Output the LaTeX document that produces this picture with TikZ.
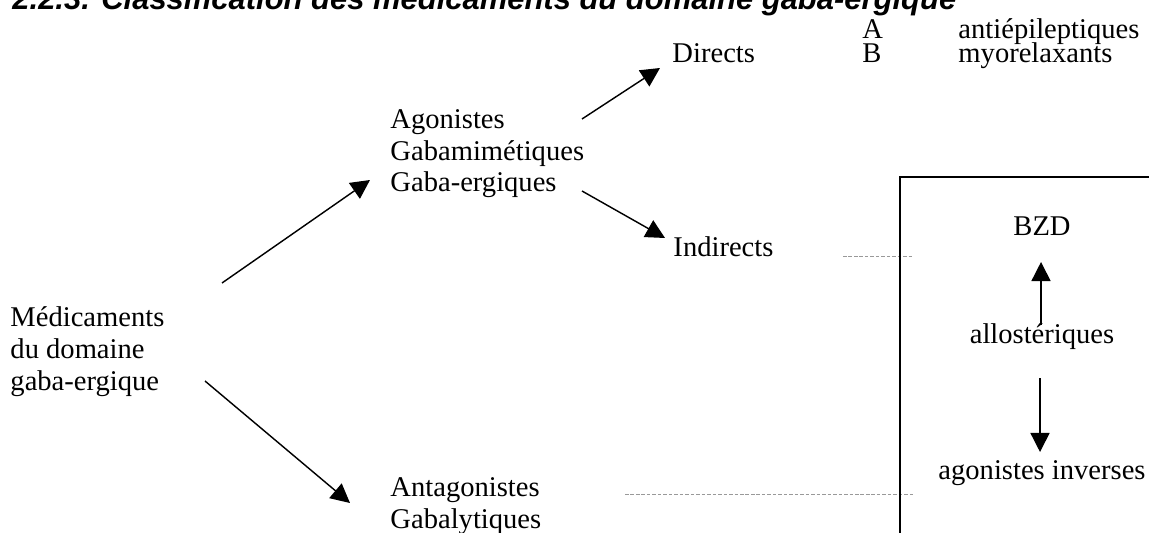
\documentclass[tikz,border=0pt]{standalone}
\usepackage{fontspec}
\setmainfont{Liberation Serif}
\newfontfamily\titrefont{Liberation Sans}
\usetikzlibrary{arrows.meta}

\tikzset{
  texte/.style={inner sep=0pt, anchor=base west, align=left,
    font=\fontsize{12}{13.4}\selectfont},
  centre/.style={texte, anchor=base},
  fleche/.style={line width=0.6pt, -{Triangle[length=8pt,width=8pt]}},
  tiret/.style={gris, line width=0.4pt, dash pattern=on 1.5pt off 0.8pt},
  cadre/.style={line width=0.8pt}
}

\begin{document}
\begin{tikzpicture}[x=0.42pt, y=-0.42pt]

% Couleurs
\definecolor{gris}{gray}{0.6}

\useasboundingbox (0,0) rectangle (1149,533);
\clip (0,0) rectangle (1149,533);

% Titre (coupe en haut)
\node[inner sep=0pt, anchor=base west,
  font=\titrefont\bfseries\itshape\fontsize{13}{15}\selectfont]
  (titre) at (12,10) {2.2.3. Classification des médicaments du domaine gaba-ergique};

% Legende A / B
\node[texte] (lettreA) at (862,39) {A};
\node[texte] (antiep) at (958,39) {antiépileptiques};
\node[texte] (lettreB) at (862,63) {B};
\node[texte] (myorel) at (958,63) {myorelaxants};

% Arbre (base = derniere ligne)
\node[texte] (med) at (10,390) {Médicaments\\du domaine\\gaba-ergique};
\node[texte] (ago) at (390,192) {Agonistes\\Gabamimétiques\\Gaba-ergiques};
\node[texte] (ant) at (390,528) {Antagonistes\\Gabalytiques};
\node[texte] (dir) at (672,63) {Directs};
\node[texte] (ind) at (673,257) {Indirects};

% Cadre
\coordinate (cadreB) at (900,533);
\coordinate (cadreHG) at (900,177);
\coordinate (cadreD) at (1149,177);

\node[centre] (bzd) at (1042,236) {BZD};
\node[centre] (allo) at (1042,343) {allostériques};
\node[centre] (inv) at (1042,479) {agonistes inverses};

% Traits gris
\coordinate (t1) at (913,256);
\coordinate (t2) at (913,494);
\draw[tiret] ([shift={(170,-1)}]ind.base west) -- (t1);
\draw[tiret] ([shift={(235,-34)}]ant.base west) -- (t2);

\draw[cadre] (cadreB) -- (cadreHG) -- (cadreD);

% Fleches
\draw[fleche] ([shift={(212,-107)}]med.base west) -- ([shift={(-20,-12)}]ago.base west);
\draw[fleche] ([shift={(195,-9)}]med.base west) -- ([shift={(-40,-25)}]ant.base west);
\draw[fleche] ([shift={(192,-73)}]ago.base west) -- ([shift={(-12,5)}]dir.base west);
\draw[fleche] ([shift={(192,-1)}]ago.base west) -- ([shift={(-8,-19)}]ind.base west);
\draw[fleche] ([shift={(-1,-18)}]allo.base) -- ([shift={(-1,26)}]bzd.base);
\draw[fleche] ([shift={(-2,35)}]allo.base) -- ([shift={(-2,-27)}]inv.base);

\end{tikzpicture}
\end{document}
